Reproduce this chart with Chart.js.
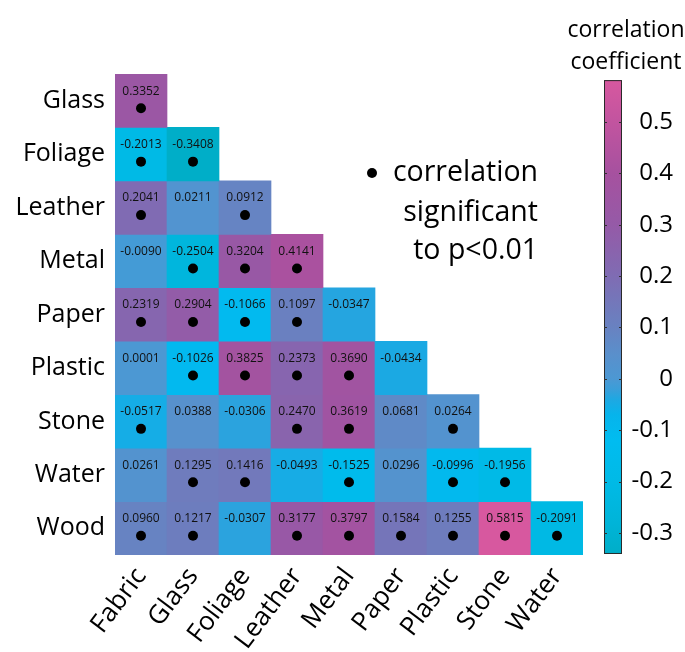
<!DOCTYPE html>
<html>
<head>
<meta charset="utf-8">
<script src="https://cdn.jsdelivr.net/npm/chart.js@4/dist/chart.umd.min.js"></script>
<style>
  html, body { margin: 0; padding: 0; background: #fff; }
  #wrap { width: 685px; height: 652px; position: relative; }
</style>
</head>
<body>
<div id="wrap"><canvas id="chart"></canvas></div>
<script>
// Material categories
const columns = ['Fabric', 'Glass', 'Foliage', 'Leather', 'Metal', 'Paper', 'Plastic', 'Stone', 'Water'];
const rows = ['Glass', 'Foliage', 'Leather', 'Metal', 'Paper', 'Plastic', 'Stone', 'Water', 'Wood'];

// Lower-triangle correlation coefficients, one array per row (starting at Fabric)
const coefGlass   = [0.3352];
const coefFoliage = [-0.2013, -0.3408];
const coefLeather = [0.2041, 0.0211, 0.0912];
const coefMetal   = [-0.0090, -0.2504, 0.3204, 0.4141];
const coefPaper   = [0.2319, 0.2904, -0.1066, 0.1097, -0.0347];
const coefPlastic = [0.0001, -0.1026, 0.3825, 0.2373, 0.3690, -0.0434];
const coefStone   = [-0.0517, 0.0388, -0.0306, 0.2470, 0.3619, 0.0681, 0.0264];
const coefWater   = [0.0261, 0.1295, 0.1416, -0.0493, -0.1525, 0.0296, -0.0996, -0.1956];
const coefWood    = [0.0960, 0.1217, -0.0307, 0.3177, 0.3797, 0.1584, 0.1255, 0.5815, -0.2091];

// Significance at p<0.01 (1 = significant), same layout as above
const sigGlass   = [1];
const sigFoliage = [1, 1];
const sigLeather = [1, 0, 1];
const sigMetal   = [0, 1, 1, 1];
const sigPaper   = [1, 1, 1, 1, 0];
const sigPlastic = [0, 1, 1, 1, 1, 0];
const sigStone   = [1, 0, 0, 1, 1, 0, 1];
const sigWater   = [0, 1, 1, 0, 1, 0, 1, 1];
const sigWood    = [1, 1, 0, 1, 1, 1, 1, 1, 1];

// Colour bar tick labels
const colorbarTicks = [-0.3, -0.2, -0.1, 0, 0.1, 0.2, 0.3, 0.4, 0.5];

// Colour map: teal -> cyan -> blue -> purple -> pink
const cmapValues = [-0.34, -0.28, -0.20, -0.12, -0.07, -0.04, -0.02, 0.00, 0.05, 0.10, 0.20, 0.30, 0.40, 0.50, 0.59];
const cmapColors = ['#00aec8', '#00b4d8', '#00bae6', '#00bcf0', '#06b4ec', '#1ea8e2', '#3a9ed9', '#4c98d3',
                    '#5a8fcb', '#6882c1', '#7f6cb3', '#955aa7', '#a6519f', '#c2549f', '#d9589f'];

const coefRows = [coefGlass, coefFoliage, coefLeather, coefMetal, coefPaper, coefPlastic, coefStone, coefWater, coefWood];
const sigRows  = [sigGlass, sigFoliage, sigLeather, sigMetal, sigPaper, sigPlastic, sigStone, sigWater, sigWood];

const FONT = "'Open Sans', 'Noto Sans', sans-serif";

function hexToRgb(h) {
  const n = parseInt(h.slice(1), 16);
  return [(n >> 16) & 255, (n >> 8) & 255, n & 255];
}
function colorFor(v) {
  if (v <= cmapValues[0]) return cmapColors[0];
  const last = cmapValues.length - 1;
  if (v >= cmapValues[last]) return cmapColors[last];
  for (let k = 0; k < last; k++) {
    if (v >= cmapValues[k] && v <= cmapValues[k + 1]) {
      const t = (v - cmapValues[k]) / (cmapValues[k + 1] - cmapValues[k]);
      const a = hexToRgb(cmapColors[k]), b = hexToRgb(cmapColors[k + 1]);
      const c = a.map((x, i) => Math.round(x + (b[i] - x) * t));
      return `rgb(${c[0]},${c[1]},${c[2]})`;
    }
  }
  return cmapColors[last];
}

const allCoefs = coefRows.flat();
const dataMin = Math.min(...allCoefs);
const dataMax = Math.max(...allCoefs);

// One floating-bar dataset per row: each bar spans its row band
const cellDatasets = rows.map((row, i) => ({
  type: 'bar',
  label: row,
  data: columns.map((c, j) => j < coefRows[i].length ? [i - 0.5, i + 0.5] : null),
  backgroundColor: columns.map((c, j) => j < coefRows[i].length ? colorFor(coefRows[i][j]) : 'rgba(0,0,0,0)'),
  borderWidth: 0,
  grouped: false,
  barPercentage: 1,
  categoryPercentage: 1,
  xAxisID: 'x',
  yAxisID: 'y',
  order: 2
}));

// Significance markers sit a little below the cell centre
const DOT_SHIFT = 0.14;
const dotPoints = [];
sigRows.forEach((sr, i) => sr.forEach((s, j) => {
  if (s) dotPoints.push({ x: columns[j], y: i + DOT_SHIFT });
}));

const dotDataset = {
  type: 'scatter',
  data: dotPoints,
  pointRadius: 5,
  pointHoverRadius: 5,
  backgroundColor: '#000',
  borderWidth: 0,
  xAxisID: 'x',
  yAxisID: 'y',
  order: 1
};

// Coefficient text inside each cell, plus colour bar and annotations
const annotate = {
  id: 'annotate',
  beforeDatasetsDraw(chart) {
    const ctx = chart.ctx;
    const cb = chart.scales.cb;
    const area = chart.chartArea;
    const left = area.right + 21, width = 18;
    const top = cb.getPixelForValue(dataMax), bottom = cb.getPixelForValue(dataMin);
    const grad = ctx.createLinearGradient(0, top, 0, bottom);
    cmapValues.forEach((v, k) => {
      const f = (cb.getPixelForValue(v) - top) / (bottom - top);
      if (f >= 0 && f <= 1) grad.addColorStop(f, cmapColors[k]);
    });
    grad.addColorStop(0, colorFor(dataMax));
    grad.addColorStop(1, colorFor(dataMin));
    ctx.save();
    ctx.fillStyle = grad;
    ctx.fillRect(left, top, width, bottom - top);
    ctx.strokeStyle = '#2a2a2a';
    ctx.lineWidth = 1;
    ctx.strokeRect(left + 0.5, top + 0.5, width - 1, bottom - top - 1);
    ctx.strokeStyle = '#333';
    colorbarTicks.forEach(v => {
      const y = Math.round(cb.getPixelForValue(v)) + 0.5;
      ctx.beginPath();
      ctx.moveTo(left, y); ctx.lineTo(left + 3, y);
      ctx.moveTo(left + width - 3, y); ctx.lineTo(left + width, y);
      ctx.stroke();
    });
    ctx.restore();
  },
  afterDatasetsDraw(chart) {
    const ctx = chart.ctx;
    const xs = chart.scales.x, ys = chart.scales.y;
    ctx.save();
    ctx.fillStyle = '#111';
    ctx.font = `12px ${FONT}`;
    ctx.textAlign = 'center';
    ctx.textBaseline = 'middle';
    coefRows.forEach((cr, i) => cr.forEach((v, j) => {
      const x = xs.getPixelForValue(j);
      const y = ys.getPixelForValue(i - 0.18);
      ctx.fillText(v.toFixed(4), x, y);
    }));

    // Colour bar title
    ctx.fillStyle = '#000';
    ctx.font = `23px ${FONT}`;
    ctx.textAlign = 'center';
    ctx.fillText('correlation', 626, 30);
    ctx.fillText('coefficient', 626, 62);

    // Significance key
    ctx.beginPath();
    ctx.arc(372, 173, 5, 0, Math.PI * 2);
    ctx.fill();
    ctx.font = `28.5px ${FONT}`;
    ctx.textAlign = 'right';
    ctx.fillText('correlation', 538, 173);
    ctx.fillText('significant', 538, 213);
    ctx.fillText('to p<0.01', 538, 251);
    ctx.restore();
  }
};

new Chart(document.getElementById('chart'), {
  type: 'bar',
  data: { labels: columns, datasets: [...cellDatasets, dotDataset] },
  plugins: [annotate],
  options: {
    responsive: true,
    maintainAspectRatio: false,
    animation: false,
    events: [],
    layout: { padding: { top: 74, right: 12, left: 0, bottom: 0 } },
    plugins: { legend: { display: false }, tooltip: { enabled: false }, title: { display: false } },
    scales: {
      x: {
        type: 'category',
        labels: columns,
        offset: true,
        grid: { display: false, drawTicks: false },
        border: { display: false },
        ticks: { autoSkip: false, minRotation: 53, maxRotation: 53, padding: 7,
                 font: { family: FONT, size: 26 }, color: '#000' },
        afterFit: s => { s.height = 97; }
      },
      y: {
        type: 'linear',
        position: 'left',
        reverse: true,
        min: -0.5,
        max: 8.5,
        afterBuildTicks: s => { s.ticks = rows.map((_, i) => ({ value: i })); },
        grid: { display: false, drawTicks: false },
        border: { display: false },
        ticks: { callback: v => rows[v], padding: 10, font: { family: FONT, size: 25 }, color: '#000' },
        afterFit: s => { s.width = 115; }
      },
      cb: {
        type: 'linear',
        position: 'right',
        min: -0.3428,
        max: 0.5934,
        afterBuildTicks: s => { s.ticks = colorbarTicks.map(v => ({ value: v })); },
        grid: { display: false, drawTicks: false },
        border: { display: false },
        ticks: { callback: v => String(+v.toFixed(1)), crossAlign: 'far', padding: 48,
                 font: { family: FONT, size: 24 }, color: '#000' },
        afterFit: s => { s.width = 90; }
      }
    }
  }
});
</script>
</body>
</html>
